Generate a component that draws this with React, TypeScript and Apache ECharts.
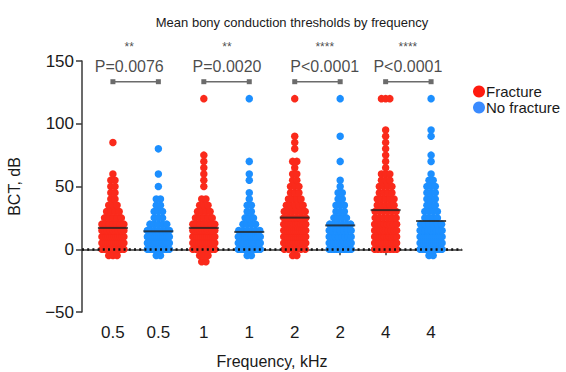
import React, { useEffect, useRef } from "react";
import * as echarts from "echarts";

// Category (frequency) labels along the x axis
const CATEGORY_LABELS = ["0.5", "0.5", "1", "1", "2", "2", "4", "4"];

// Each group: [threshold dB, number of ears at that threshold]
const fracture05: [number, number][] = [[-5, 3], [0, 9], [5, 12], [10, 12], [15, 9], [20, 7], [25, 5], [30, 4], [35, 3], [40, 2], [45, 2], [50, 2], [55, 2], [60, 1], [85, 1]];
const noFracture05: [number, number][] = [[-5, 2], [0, 10], [5, 13], [10, 12], [15, 7], [20, 5], [25, 3], [30, 3], [35, 2], [40, 2], [50, 1], [60, 1], [80, 1]];
const fracture1: [number, number][] = [[-10, 2], [-5, 3], [0, 8], [5, 12], [10, 12], [15, 10], [20, 7], [25, 5], [30, 4], [35, 3], [40, 2], [50, 1], [55, 1], [60, 1], [65, 1], [70, 1], [75, 1], [120, 1]];
const noFracture1: [number, number][] = [[-5, 2], [0, 12], [5, 14], [10, 11], [15, 6], [20, 4], [25, 3], [30, 2], [35, 2], [40, 1], [45, 1], [55, 1], [60, 1], [70, 1], [120, 1]];
const fracture2: [number, number][] = [[-5, 2], [0, 6], [5, 10], [10, 12], [15, 12], [20, 10], [25, 8], [30, 6], [35, 5], [40, 4], [45, 3], [50, 3], [55, 2], [60, 2], [65, 1], [70, 2], [80, 1], [85, 1], [90, 1], [120, 1]];
const noFracture2: [number, number][] = [[0, 10], [5, 11], [10, 8], [15, 7], [20, 6], [25, 4], [30, 3], [35, 3], [40, 2], [45, 2], [50, 1], [55, 1], [70, 1], [90, 1], [120, 1]];
const fracture4: [number, number][] = [[0, 8], [5, 10], [10, 10], [15, 9], [20, 8], [25, 6], [30, 6], [35, 5], [40, 5], [45, 4], [50, 4], [55, 3], [60, 3], [65, 1], [70, 1], [75, 1], [80, 1], [85, 1], [90, 1], [95, 1], [120, 3]];
const noFracture4: [number, number][] = [[-5, 2], [0, 10], [5, 12], [10, 12], [15, 9], [20, 6], [25, 4], [30, 4], [35, 3], [40, 3], [45, 3], [50, 3], [55, 2], [60, 1], [70, 1], [75, 1], [90, 1], [95, 1], [120, 1]];

const FRACTURE_GROUPS = [fracture05, fracture1, fracture2, fracture4];
const NO_FRACTURE_GROUPS = [noFracture05, noFracture1, noFracture2, noFracture4];

// Mean lines per column
const MEANS = [17, 14.3, 17, 13.8, 25.2, 19, 31.2, 22.5];

// Significance annotations
const PAIRS: [number, number][] = [[1, 2], [3, 4], [5, 6], [7, 8]];
const P_LABELS = ["P=0.0076", "P=0.0020", "P<0.0001", "P<0.0001"];
const STARS = ["**", "**", "****", "****"];
const LABEL_X = [1.36, 3.51, 5.66, 7.49];
const BRACKET_Y = 133.5;
const P_LABEL_Y = 146;
const STAR_Y = 161;

const RED = "#FA2A1B";
const BLUE = "#1C8FFF";
const FONT = "Liberation Sans, Arial, Helvetica, sans-serif";

const X_MIN = 0.32;
const X_MAX = 8.68;
const GRID_LEFT = 82;
const GRID_RIGHT = 104;
const PX_PER_UNIT = (566 - GRID_LEFT - GRID_RIGHT) / (X_MAX - X_MIN);

function swarm(group: [number, number][], xCenter: number): number[][] {
  const pts: number[][] = [];
  group.forEach(([v, n]) => {
    const dxPx = n > 1 ? Math.min(4.2, 22 / (n - 1)) : 0;
    for (let i = 0; i < n; i++) {
      const off = (i - (n - 1) / 2) * dxPx;
      pts.push([xCenter + off / PX_PER_UNIT, v]);
    }
  });
  return pts;
}

export default function App() {
  const ref = useRef<HTMLDivElement>(null);
  useEffect(() => {
    if (!ref.current) return;
    const chart = echarts.init(ref.current, null, { renderer: "svg" });
    const fractureData: number[][] = [];
    FRACTURE_GROUPS.forEach((g, i) => fractureData.push(...swarm(g, 1 + 2 * i)));
    const noFractureData: number[][] = [];
    NO_FRACTURE_GROUPS.forEach((g, i) => noFractureData.push(...swarm(g, 2 + 2 * i)));

    const bracketSeries = PAIRS.map((p) => ({
      type: "line",
      data: [[p[0], BRACKET_Y], [p[1], BRACKET_Y]],
      symbol: "rect",
      symbolSize: 5,
      showSymbol: true,
      lineStyle: { color: "#6b6b6b", width: 1.5 },
      itemStyle: { color: "#6b6b6b" },
      silent: true,
      z: 5,
    }));

    const annotData: any[] = [];
    P_LABELS.forEach((t, i) => annotData.push({ value: [LABEL_X[i], P_LABEL_Y], label: { formatter: t, fontSize: 16, color: "#1a1a1a" } }));
    STARS.forEach((t, i) => annotData.push({ value: [LABEL_X[i], STAR_Y], label: { formatter: t, fontSize: 12, color: "#1a1a1a" } }));

    chart.setOption({
      animation: false,
      backgroundColor: "#ffffff",
      textStyle: { fontFamily: FONT },
      title: {
        text: "Mean bony conduction thresholds by frequency",
        left: 287,
        textAlign: "center",
        top: 11,
        textStyle: { fontSize: 13, fontWeight: "normal", color: "#1a1a1a", fontFamily: FONT },
      },
      legend: {
        data: [
          { name: "Fracture", itemStyle: { color: "#FF1A0F" } },
          { name: "No fracture", itemStyle: { color: "#3A8BFF" } },
        ],
        orient: "vertical",
        left: 468,
        top: 79,
        icon: "circle",
        itemWidth: 12,
        itemHeight: 12,
        itemGap: 1,
        textStyle: { fontSize: 15, color: "#1a1a1a", fontFamily: FONT, padding: [0, 0, 0, -4] },
      },
      grid: { left: GRID_LEFT, right: GRID_RIGHT, top: 61, bottom: 60, outerBoundsMode: "none", containLabel: false },
      xAxis: {
        type: "value",
        min: X_MIN,
        max: X_MAX,
        name: "Frequency, kHz",
        nameLocation: "middle",
        nameGap: 41,
        nameTextStyle: { fontSize: 16, color: "#1a1a1a", fontFamily: FONT },
        axisLine: { lineStyle: { color: "#3a3a3a", width: 1.5 } },
        axisTick: { show: true, length: 6, lineStyle: { color: "#3a3a3a", width: 1.5 }, customValues: [1, 2, 3, 4, 5, 6, 7, 8] },
        axisLabel: {
          fontSize: 17,
          color: "#1a1a1a",
          margin: 12,
          customValues: [1, 2, 3, 4, 5, 6, 7, 8],
          formatter: (v: number) => CATEGORY_LABELS[Math.round(v) - 1] ?? "",
        },
        splitLine: { show: false },
      },
      yAxis: {
        type: "value",
        min: -50,
        max: 150,
        interval: 50,
        name: "BCT, dB",
        nameLocation: "middle",
        nameGap: 60,
        nameTextStyle: { fontSize: 16, color: "#1a1a1a", fontFamily: FONT },
        axisLine: { show: true, lineStyle: { color: "#3a3a3a", width: 1.5 } },
        axisTick: { show: true, length: 6, lineStyle: { color: "#3a3a3a", width: 1.5 } },
        axisLabel: { fontSize: 17, color: "#1a1a1a", margin: 8, formatter: (v: number) => String(v).replace("-", "\u2212") },
        splitLine: { show: false },
      },
      series: [
        {
          name: "zero",
          type: "line",
          data: [],
          z: 1,
          silent: true,
          markLine: {
            silent: true,
            symbol: "none",
            label: { show: false },
            lineStyle: { color: "#111", type: [2, 3.2], width: 2.5 },
            data: [{ yAxis: 0 }],
          },
        },
        {
          name: "Fracture",
          type: "scatter",
          data: fractureData,
          symbolSize: 7.5,
          itemStyle: { color: RED, opacity: 1 },
          z: 2,
        },
        {
          name: "No fracture",
          type: "scatter",
          data: noFractureData,
          symbolSize: 7.5,
          itemStyle: { color: BLUE, opacity: 1 },
          z: 2,
        },
        {
          name: "means",
          type: "scatter",
          data: MEANS.map((m, i) => [i + 1, m]),
          symbol: "rect",
          symbolSize: [30, 2],
          itemStyle: { color: "#222" },
          silent: true,
          z: 4,
        },
        ...bracketSeries,
        {
          name: "annot",
          type: "scatter",
          data: annotData,
          symbolSize: 1,
          clip: false,
          itemStyle: { color: "rgba(0,0,0,0)" },
          label: { show: true, position: "inside", fontFamily: FONT },
          silent: true,
          z: 6,
        },
      ],
    } as any);
    return () => chart.dispose();
  }, []);
  return <div ref={ref} style={{ width: 566, height: 372, position: "absolute", left: 0, top: 0 }} />;
}
